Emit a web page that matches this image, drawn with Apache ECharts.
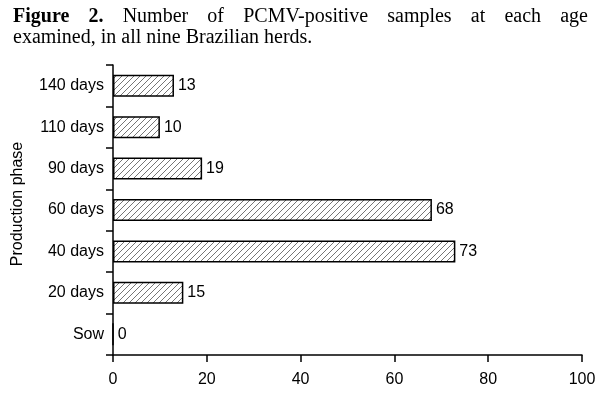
<!DOCTYPE html>
<html>
<head>
<meta charset="utf-8">
<script src="https://cdn.jsdelivr.net/npm/echarts@6/dist/echarts.min.js"></script>
<style>
  html, body { margin: 0; padding: 0; background: #fff; }
  #chart { width: 600px; height: 396px; }
</style>
</head>
<body>
<div id="chart"></div>
<script>
const categories = ['Sow', '20 days', '40 days', '60 days', '90 days', '110 days', '140 days'];
const positives = [0, 15, 73, 68, 19, 10, 13];
const xTicks = [0, 20, 40, 60, 80, 100];
const titleLine1 = ['Figure', '2.', 'Number', 'of', 'PCMV-positive', 'samples', 'at', 'each', 'age'];
const titleLine2 = 'examined, in all nine Brazilian herds.';

// diagonal hatch used as bar fill
function hatch() {
  const s = 6;
  const c = document.createElement('canvas');
  c.width = s; c.height = s;
  const ctx = c.getContext('2d');
  ctx.fillStyle = '#fff';
  ctx.fillRect(0, 0, s, s);
  ctx.strokeStyle = '#666';
  ctx.lineWidth = 0.9;
  ctx.beginPath();
  ctx.moveTo(-1, s + 1); ctx.lineTo(s + 1, -1);
  ctx.moveTo(-1, 1); ctx.lineTo(1, -1);
  ctx.moveTo(s - 1, s + 1); ctx.lineTo(s + 1, s - 1);
  ctx.stroke();
  return c;
}

// lay out the first caption line justified between two edges
function justified(words, left, right, y, font) {
  const ctx = document.createElement('canvas').getContext('2d');
  const widths = words.map((w, i) => {
    ctx.font = (i < 2 ? 'bold ' : '') + font;
    return ctx.measureText(w).width;
  });
  const total = widths.reduce((a, b) => a + b, 0);
  const gap = (right - left - total) / (words.length - 1);
  let x = left;
  return words.map((w, i) => {
    const el = {
      type: 'text', left: x, top: y,
      style: { text: w, font: (i < 2 ? 'bold ' : '') + font, fill: '#000' },
    };
    x += widths[i] + gap;
    return el;
  });
}

const titleFont = '20px "Liberation Serif", "Times New Roman", serif';
const chart = echarts.init(document.getElementById('chart'));
chart.setOption({
  animation: false,
  textStyle: { fontFamily: 'Liberation Sans, Arial, sans-serif' },
  graphic: [
    ...justified(titleLine1, 13, 588, 7, titleFont),
    { type: 'text', left: 13, top: 28, style: { text: titleLine2, font: titleFont, fill: '#000' } },
  ],
  grid: { left: 113, right: 18, top: 65, bottom: 41 },
  xAxis: {
    type: 'value',
    min: xTicks[0],
    max: xTicks[xTicks.length - 1],
    interval: 20,
    splitLine: { show: false },
    axisLine: { show: true, lineStyle: { color: '#000', width: 1.5 } },
    axisTick: { show: true, length: 7, lineStyle: { color: '#000', width: 1.5 } },
    axisLabel: { color: '#000', fontSize: 16, margin: 17 },
  },
  yAxis: {
    type: 'category',
    data: categories,
    name: 'Production phase',
    nameLocation: 'middle',
    nameGap: 87,
    nameTextStyle: { color: '#000', fontSize: 16, padding: [0, 0, 0, 12] },
    axisLine: { show: true, lineStyle: { color: '#000', width: 1.5 } },
    axisTick: { show: true, length: 7, lineStyle: { color: '#000', width: 1.5 } },
    axisLabel: { color: '#000', fontSize: 16, margin: 9 },
  },
  series: [{
    type: 'bar',
    data: positives,
    barWidth: 22,
    itemStyle: {
      color: { image: hatch(), repeat: 'repeat' },
      borderColor: '#000',
      borderWidth: 1.5,
    },
    label: { show: true, position: 'right', distance: 4, color: '#000', fontSize: 16 },
  }],
});
</script>
</body>
</html>
